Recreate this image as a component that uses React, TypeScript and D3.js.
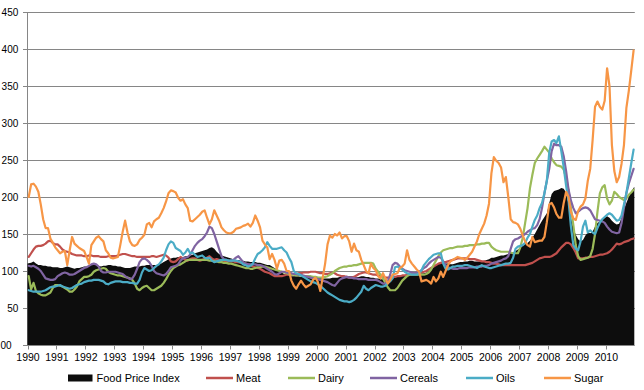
import React from "react";
import * as d3 from "d3";

// Years shown on the category axis (monthly data Jan 1990 – Dec 2010)
const years = d3.range(1990, 2011);
const yTickValues = [0, 50, 100, 150, 200, 250, 300, 350, 400, 450];
const yTickLabels = ["00", "50", "100", "150", "200", "250", "300", "350", "400", "450"];

const fpi = [
  110,111,113,110,108,108,107,107,106,106,105,105,
  105,104,104,105,106,105,104,103,104,104,105,106,
  106,107,108,109,108,107,106,107,107,108,108,107,
  107,106,106,105,104,104,104,105,106,106,106,107,
  107,108,108,108,108,108,109,110,112,114,116,117,
  118,118,119,119,119,120,120,121,122,124,125,126,
  127,128,129,131,132,130,126,123,121,120,119,118,
  117,116,115,115,114,114,113,113,112,112,112,111,
  111,110,109,108,108,106,104,102,100,98,96,95,
  94,93,93,93,93,92,92,92,92,92,92,92,
  91,91,90,90,90,90,91,91,91,92,92,92,
  93,93,93,93,92,92,93,93,92,92,91,91,
  90,90,89,89,88,88,89,90,92,93,93,93,
  94,95,95,95,95,96,96,97,97,98,100,103,
  106,108,110,111,111,110,110,109,109,110,111,112,
  112,113,113,114,114,113,113,113,113,114,115,116,
  118,118,119,120,121,121,122,123,124,125,127,129,
  131,134,136,138,141,145,150,156,162,168,173,178,
  192,204,208,209,210,212,211,206,190,172,158,149,
  143,140,142,148,152,151,153,160,165,167,170,172,
  174,172,168,165,163,164,172,183,192,200,207,214,
];

const meat = [
  119,124,129,133,134,134,135,137,140,141,138,136,
  136,133,129,127,126,125,123,122,121,121,121,120,
  120,121,121,120,120,120,119,119,119,120,120,120,
  120,121,122,123,123,122,121,120,120,119,119,119,
  119,119,119,120,120,119,120,121,122,121,118,113,
  112,113,116,119,117,115,114,116,117,117,115,114,
  115,116,118,120,117,115,116,115,114,114,113,113,
  113,113,112,112,111,111,110,109,108,106,105,104,
  103,101,99,98,97,95,93,93,93,93,94,95,
  95,95,96,96,97,97,98,98,98,99,99,99,
  98,97,97,96,96,97,98,97,95,94,93,93,
  92,91,91,92,94,96,97,98,98,97,96,95,
  95,94,93,92,91,91,91,92,92,93,93,94,
  94,95,95,96,96,97,98,98,99,100,102,104,
  106,108,110,111,112,112,113,114,115,116,117,117,
  117,117,117,116,116,116,115,114,113,113,112,112,
  111,110,110,109,108,108,108,108,108,108,108,108,
  108,108,108,109,110,111,113,115,117,118,119,119,
  119,120,122,124,128,132,135,138,138,136,131,125,
  117,117,117,118,118,119,119,120,121,122,122,123,
  124,126,129,133,137,136,137,139,140,141,143,144,
];

const dairy = [
  93,75,84,73,70,68,67,67,69,71,77,81,
  81,80,79,77,75,72,72,75,79,86,89,92,
  92,93,95,99,101,102,103,104,103,99,97,96,
  95,94,94,93,92,91,90,88,83,76,74,77,
  79,80,77,74,74,76,78,80,84,89,95,100,
  104,106,108,109,111,113,115,115,115,115,115,115,
  115,115,115,114,114,113,113,112,112,111,111,110,
  110,109,108,107,106,105,104,104,103,103,104,105,
  105,106,106,105,104,103,102,101,100,99,98,97,
  96,95,95,94,94,94,93,93,93,93,92,92,
  91,91,91,92,93,95,97,100,102,104,105,106,
  106,107,107,108,108,109,110,111,111,111,111,110,
  103,99,95,90,84,78,74,74,74,77,82,87,
  90,93,95,95,95,95,95,95,95,96,98,102,
  108,114,120,125,128,129,130,131,131,132,133,133,
  133,134,134,135,135,135,136,136,137,137,138,138,
  133,130,128,127,126,126,126,126,125,124,124,124,
  132,145,165,185,212,230,246,252,257,262,268,264,
  260,252,247,243,242,241,237,226,209,185,162,135,
  120,115,116,117,118,120,130,150,180,205,213,216,
  198,190,195,207,204,200,198,196,198,203,206,210,
];

const cereals = [
  107,106,107,105,103,100,95,90,89,88,88,89,
  93,95,97,98,97,95,95,96,98,100,102,104,
  105,107,109,110,109,106,100,98,98,99,99,99,
  99,98,97,96,93,91,89,90,95,103,112,116,
  117,115,112,107,100,97,96,95,94,96,100,105,
  106,107,109,114,117,118,119,122,128,134,138,141,
  143,147,152,160,158,150,140,130,120,116,115,114,
  114,115,118,120,116,112,110,109,109,109,109,108,
  108,107,105,103,101,99,96,95,97,99,99,98,
  97,97,96,96,95,95,94,93,92,91,90,90,
  89,88,87,86,85,83,81,80,84,88,90,91,
  92,91,91,90,90,89,89,89,89,88,88,88,
  88,87,85,83,83,86,95,108,111,110,106,103,
  101,100,99,98,97,98,99,101,104,106,110,113,
  115,117,119,118,113,108,105,104,103,103,103,104,
  104,104,104,105,105,105,106,106,106,107,107,108,
  110,111,112,113,114,116,117,120,130,140,143,144,
  146,148,150,153,155,157,158,162,170,185,205,222,
  238,262,272,270,270,268,255,235,210,195,185,178,
  180,183,185,186,185,182,176,170,169,168,167,165,
  160,156,153,152,151,152,165,185,205,218,228,238,
];

const oils = [
  74,73,72,72,72,72,73,74,76,78,79,79,
  80,81,79,78,77,76,77,79,81,82,83,85,
  86,87,87,88,88,88,87,86,83,82,84,85,
  86,86,86,85,85,85,84,84,83,83,88,98,
  104,102,100,101,104,107,109,113,118,128,136,140,
  138,131,129,127,122,125,130,124,125,122,119,120,
  121,118,117,118,114,112,113,114,115,115,115,114,
  114,114,114,113,112,109,108,106,107,110,117,123,
  125,128,132,139,134,130,130,130,131,132,128,125,
  118,112,100,97,96,94,92,90,88,86,85,84,
  82,80,77,74,71,69,67,65,63,61,60,59,
  59,58,59,61,64,68,72,80,76,74,77,79,
  81,80,79,79,80,84,86,90,105,106,104,102,
  99,97,96,95,95,95,97,101,108,112,116,119,
  122,123,124,124,110,103,102,104,106,106,107,107,
  107,108,108,107,106,105,104,106,108,106,105,104,
  104,105,106,107,108,109,110,110,111,118,130,133,
  134,135,138,145,150,160,169,175,185,192,205,222,
  260,275,277,273,282,262,240,215,195,160,135,130,
  128,140,160,168,152,155,152,150,158,165,170,173,
  176,178,176,172,168,169,175,190,205,225,245,264,
];

const sugar = [
  200,217,218,214,207,190,170,158,158,144,138,132,
  128,124,126,127,108,128,146,137,134,131,129,127,
  119,110,135,140,145,147,143,140,128,124,118,117,
  118,119,135,153,168,152,140,135,134,136,142,145,
  149,163,165,159,167,170,172,178,185,194,205,209,
  208,206,199,195,197,190,185,168,167,170,173,176,
  180,182,172,163,170,182,175,168,159,155,152,151,
  151,153,157,158,159,161,162,164,160,165,175,168,
  159,141,136,132,116,123,115,103,114,115,110,100,
  100,87,80,76,82,87,82,78,80,82,88,91,
  85,73,91,110,136,148,145,150,148,152,144,147,
  147,140,126,137,128,126,115,108,100,97,110,104,
  101,93,90,97,90,83,88,95,96,97,104,106,
  110,128,115,110,106,102,99,86,87,88,86,83,
  92,86,90,99,92,100,108,113,115,117,119,118,
  117,115,118,122,126,133,140,150,157,164,175,191,
  232,254,249,246,240,220,227,200,170,166,165,163,
  157,148,140,135,133,146,139,140,141,141,146,166,
  190,192,186,177,172,172,192,207,200,180,171,169,
  181,187,190,198,222,238,277,322,329,322,318,330,
  374,350,270,235,220,227,245,270,320,343,370,398,
];

const seriesNames = ["Meat", "Dairy", "Cereals", "Oils", "Sugar"];
const seriesData = [meat, dairy, cereals, oils, sugar];
const seriesColors = ["#C0504D", "#9BBB59", "#8064A2", "#4BACC6", "#F79646"];
const fpiName = "Food Price Index";
const fpiColor = "#0d0d0d";

const W = 644;
const H = 390;
const plotLeft = 27.5;
const plotRight = 634.8;
const plotTop = 12;
const plotBottom = 345;
const FONT = "'Liberation Sans', Arial, sans-serif";
const gridColor = "#868686";

export default function App() {
  const nMonths = fpi.length;
  const x = d3.scaleLinear().domain([0, nMonths]).range([plotLeft, plotRight]);
  const y = d3.scaleLinear().domain([0, 450]).range([plotBottom, plotTop]);
  const px = (i: number) => x(i + 0.5);

  const area = d3
    .area<number>()
    .x((_, i) => (i === 0 ? plotLeft : i === nMonths - 1 ? x(nMonths) - 0.5 : px(i)))
    .y0(plotBottom)
    .y1((d) => y(d));

  const line = d3
    .line<number>()
    .x((_, i) => px(i))
    .y((d) => y(d));

  // legend layout
  const legendY = 378;
  const legendItems = [
    { name: fpiName, color: fpiColor, kind: "area", sx: 68 },
    ...seriesNames.map((n, k) => ({ name: n, color: seriesColors[k], kind: "line", sx: [206, 288, 370, 466, 544][k] })),
  ];

  return (
    <svg
      width={W}
      height={H}
      style={{ position: "absolute", left: 0, top: 0, background: "#fff" }}
      fontFamily={FONT}
    >
      {/* gridlines */}
      {yTickValues.map((v) => (
        <line
          key={"g" + v}
          x1={plotLeft - 4.5}
          x2={plotRight}
          y1={Math.round(y(v)) + 0.5}
          y2={Math.round(y(v)) + 0.5}
          stroke={gridColor}
          strokeWidth={1}
        />
      ))}
      {/* y axis */}
      <line x1={plotLeft} x2={plotLeft} y1={plotTop} y2={plotBottom} stroke={gridColor} strokeWidth={1} />
      {/* x ticks */}
      {years.map((yr, k) => (
        <line
          key={"t" + yr}
          x1={Math.round(x(k * 12)) + 0.5}
          x2={Math.round(x(k * 12)) + 0.5}
          y1={plotBottom}
          y2={plotBottom + 4.5}
          stroke={gridColor}
          strokeWidth={1}
        />
      ))}
      {/* FPI area */}
      <path d={area(fpi) || ""} fill={fpiColor} />
      {/* series lines */}
      {seriesData.map((s, k) => (
        <path
          key={seriesNames[k]}
          d={line(s) || ""}
          fill="none"
          stroke={seriesColors[k]}
          strokeWidth={2.2}
          strokeLinejoin="round"
          strokeLinecap="round"
        />
      ))}
      {/* y labels */}
      {yTickValues.map((v, k) => (
        <text
          key={"yl" + v}
          x={v === 0 ? 11.5 : 18.3}
          y={y(v) + 3.6}
          textAnchor="end"
          fontSize={10}
          fill="#000"
        >
          {yTickLabels[k]}
        </text>
      ))}
      {/* x labels */}
      {years.map((yr, k) => (
        <text
          key={"xl" + yr}
          x={x(k * 12) + 0.5}
          y={361}
          textAnchor="middle"
          fontSize={10.5}
          fill="#000"
        >
          {yr}
        </text>
      ))}
      {/* legend */}
      {legendItems.map((it) => (
        <g key={"lg" + it.name}>
          {it.kind === "area" ? (
            <rect x={it.sx} y={legendY - 3.5} width={24.5} height={7} fill={it.color} />
          ) : (
            <line x1={it.sx} x2={it.sx + 27} y1={legendY} y2={legendY} stroke={it.color} strokeWidth={2.5} />
          )}
          <text x={it.sx + (it.kind === "area" ? 28.5 : 30)} y={legendY + 4} fontSize={11} fill="#000">
            {it.name}
          </text>
        </g>
      ))}
    </svg>
  );
}
